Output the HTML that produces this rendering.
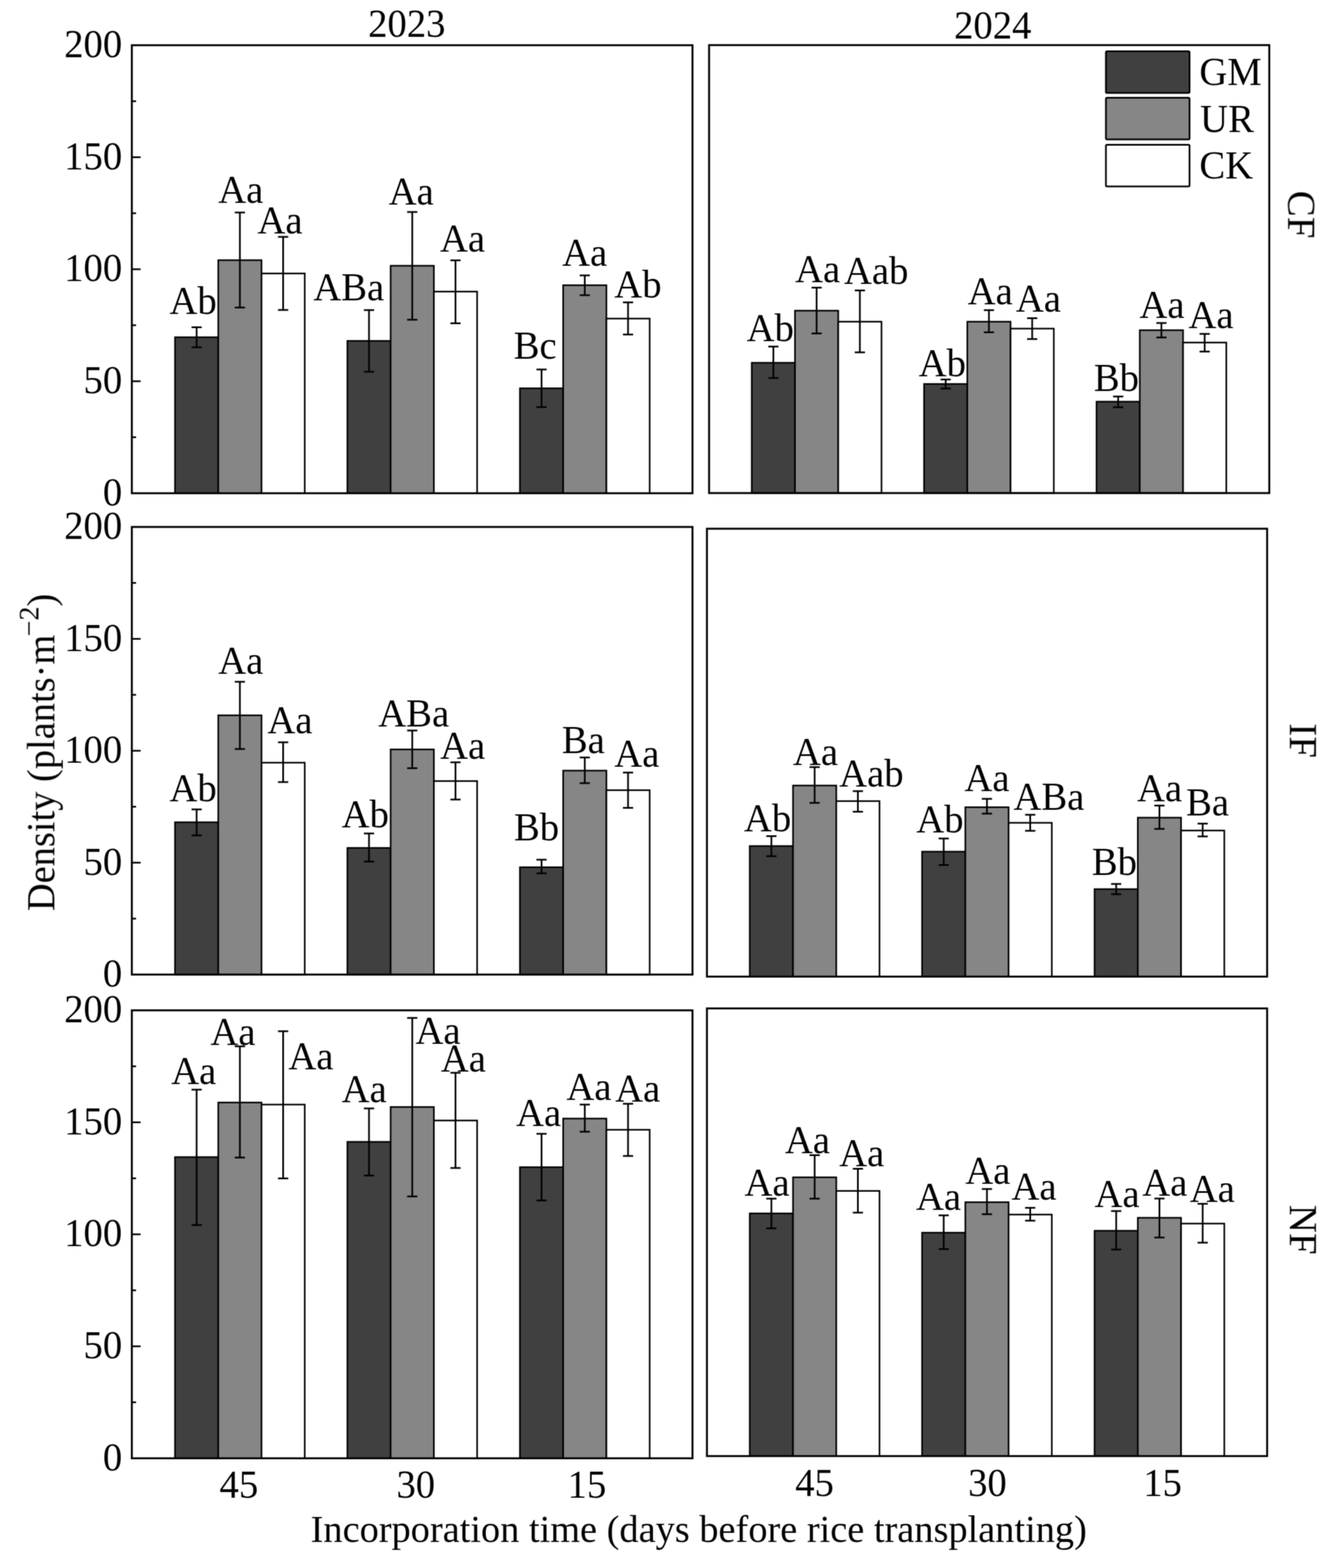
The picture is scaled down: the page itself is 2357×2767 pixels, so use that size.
<!DOCTYPE html>
<html lang="en"><head><meta charset="utf-8"><title>Density by incorporation time</title>
<style>
html,body{margin:0;padding:0;background:#fff;}
body{width:2357px;height:2767px;overflow:hidden;}
svg{display:block;}
text{font-family:"Liberation Serif",serif;font-size:69.3px;fill:#000;}
text.r{font-size:68.8px;}
text.xt{font-size:67.8px;}
.fr{fill:none;stroke:#000;stroke-width:3.4;}
.tk{stroke:#000;stroke-width:3;fill:none;}
.b{stroke:#000;stroke-width:2.8;}
.lg{stroke:#000;stroke-width:3;}
.e{stroke:#000;stroke-width:3;fill:none;}
.d{fill:#404040;}.m{fill:#868686;}.w{fill:#ffffff;}
</style></head><body>
<svg width="2357" height="2767" viewBox="0 0 2357 2767">
<rect x="0" y="0" width="2357" height="2767" fill="#fff"/>
<filter id="soft" filterUnits="userSpaceOnUse" x="0" y="0" width="2357" height="2767" color-interpolation-filters="sRGB"><feConvolveMatrix order="3" kernelMatrix="1 2 1 2 4 2 1 2 1" divisor="16" edgeMode="duplicate" preserveAlpha="false"/></filter>
<g filter="url(#soft)">
<g>
<rect class="b d" x="308.75" y="595.1" width="76.3" height="275.3"/>
<rect class="b m" x="385.05" y="459.1" width="76.3" height="411.3"/>
<rect class="b w" x="461.35" y="482.6" width="76.3" height="387.8"/>
<rect class="b d" x="612.85" y="601.6" width="76.3" height="268.8"/>
<rect class="b m" x="689.15" y="469" width="76.3" height="401.4"/>
<rect class="b w" x="765.45" y="514.6" width="76.3" height="355.8"/>
<rect class="b d" x="917.25" y="685.2" width="76.3" height="185.2"/>
<rect class="b m" x="993.55" y="503.3" width="76.3" height="367.1"/>
<rect class="b w" x="1069.85" y="562.2" width="76.3" height="308.2"/>
<line class="e" x1="346.9" y1="577.5" x2="346.9" y2="612.9"/><line class="e" x1="337.9" y1="577.5" x2="355.9" y2="577.5"/><line class="e" x1="337.9" y1="612.9" x2="355.9" y2="612.9"/>
<line class="e" x1="423.2" y1="375" x2="423.2" y2="542.7"/><line class="e" x1="414.2" y1="375" x2="432.2" y2="375"/><line class="e" x1="414.2" y1="542.7" x2="432.2" y2="542.7"/>
<line class="e" x1="499.5" y1="418" x2="499.5" y2="547"/><line class="e" x1="490.5" y1="418" x2="508.5" y2="418"/><line class="e" x1="490.5" y1="547" x2="508.5" y2="547"/>
<line class="e" x1="651" y1="547.2" x2="651" y2="656"/><line class="e" x1="642" y1="547.2" x2="660" y2="547.2"/><line class="e" x1="642" y1="656" x2="660" y2="656"/>
<line class="e" x1="727.3" y1="374.1" x2="727.3" y2="564.2"/><line class="e" x1="718.3" y1="374.1" x2="736.3" y2="374.1"/><line class="e" x1="718.3" y1="564.2" x2="736.3" y2="564.2"/>
<line class="e" x1="803.6" y1="459.4" x2="803.6" y2="570.5"/><line class="e" x1="794.6" y1="459.4" x2="812.6" y2="459.4"/><line class="e" x1="794.6" y1="570.5" x2="812.6" y2="570.5"/>
<line class="e" x1="955.4" y1="652" x2="955.4" y2="718.4"/><line class="e" x1="946.4" y1="652" x2="964.4" y2="652"/><line class="e" x1="946.4" y1="718.4" x2="964.4" y2="718.4"/>
<line class="e" x1="1031.7" y1="486" x2="1031.7" y2="520.9"/><line class="e" x1="1022.7" y1="486" x2="1040.7" y2="486"/><line class="e" x1="1022.7" y1="520.9" x2="1040.7" y2="520.9"/>
<line class="e" x1="1108" y1="533.6" x2="1108" y2="590.3"/><line class="e" x1="1099" y1="533.6" x2="1117" y2="533.6"/><line class="e" x1="1099" y1="590.3" x2="1117" y2="590.3"/>
<rect class="fr" x="232.6" y="79.8" width="989.1" height="790.6"/>
<line class="tk" x1="232.6" y1="771.57" x2="240.1" y2="771.57"/><line class="tk" x1="232.6" y1="672.75" x2="248.1" y2="672.75"/><line class="tk" x1="232.6" y1="573.92" x2="240.1" y2="573.92"/><line class="tk" x1="232.6" y1="475.1" x2="248.1" y2="475.1"/><line class="tk" x1="232.6" y1="376.27" x2="240.1" y2="376.27"/><line class="tk" x1="232.6" y1="277.45" x2="248.1" y2="277.45"/><line class="tk" x1="232.6" y1="178.62" x2="240.1" y2="178.62"/>
<text transform="translate(215.6 891.7) scale(0.9850 1)" text-anchor="end">0</text>
<text transform="translate(215.6 694.05) scale(0.9850 1)" text-anchor="end">50</text>
<text transform="translate(215.6 496.4) scale(0.9850 1)" text-anchor="end">100</text>
<text transform="translate(215.6 298.75) scale(0.9850 1)" text-anchor="end">150</text>
<text transform="translate(215.6 101.1) scale(0.9850 1)" text-anchor="end">200</text>
<text transform="translate(299.03 554.3) scale(0.9850 1)">Ab</text>
<text transform="translate(384.93 358) scale(0.9850 1)">Aa</text>
<text transform="translate(454.33 411.8) scale(0.9850 1)">Aa</text>
<text transform="translate(552.63 530.2) scale(0.9850 1)">ABa</text>
<text transform="translate(685.73 360.8) scale(0.9850 1)">Aa</text>
<text transform="translate(776.33 443.8) scale(0.9850 1)">Aa</text>
<text transform="translate(906.23 633.3) scale(0.9850 1)">Bc</text>
<text transform="translate(991.73 468.5) scale(0.9850 1)">Aa</text>
<text transform="translate(1083.73 525.1) scale(0.9850 1)">Ab</text>
</g>
<g>
<rect class="b d" x="1326.25" y="640.2" width="76.3" height="229.9"/>
<rect class="b m" x="1402.55" y="548.2" width="76.3" height="321.9"/>
<rect class="b w" x="1478.85" y="567.7" width="76.3" height="302.4"/>
<rect class="b d" x="1630.25" y="677.6" width="76.3" height="192.5"/>
<rect class="b m" x="1706.55" y="567.7" width="76.3" height="302.4"/>
<rect class="b w" x="1782.85" y="579.9" width="76.3" height="290.2"/>
<rect class="b d" x="1934.55" y="708.8" width="76.3" height="161.3"/>
<rect class="b m" x="2010.85" y="582.7" width="76.3" height="287.4"/>
<rect class="b w" x="2087.15" y="604.5" width="76.3" height="265.6"/>
<line class="e" x1="1364.4" y1="611.6" x2="1364.4" y2="667.1"/><line class="e" x1="1355.4" y1="611.6" x2="1373.4" y2="611.6"/><line class="e" x1="1355.4" y1="667.1" x2="1373.4" y2="667.1"/>
<line class="e" x1="1440.7" y1="507.6" x2="1440.7" y2="588.4"/><line class="e" x1="1431.7" y1="507.6" x2="1449.7" y2="507.6"/><line class="e" x1="1431.7" y1="588.4" x2="1449.7" y2="588.4"/>
<line class="e" x1="1517" y1="512.5" x2="1517" y2="621.8"/><line class="e" x1="1508" y1="512.5" x2="1526" y2="512.5"/><line class="e" x1="1508" y1="621.8" x2="1526" y2="621.8"/>
<line class="e" x1="1668.4" y1="669.7" x2="1668.4" y2="685.6"/><line class="e" x1="1659.4" y1="669.7" x2="1677.4" y2="669.7"/><line class="e" x1="1659.4" y1="685.6" x2="1677.4" y2="685.6"/>
<line class="e" x1="1744.7" y1="547.3" x2="1744.7" y2="586.4"/><line class="e" x1="1735.7" y1="547.3" x2="1753.7" y2="547.3"/><line class="e" x1="1735.7" y1="586.4" x2="1753.7" y2="586.4"/>
<line class="e" x1="1821" y1="561.5" x2="1821" y2="598.3"/><line class="e" x1="1812" y1="561.5" x2="1830" y2="561.5"/><line class="e" x1="1812" y1="598.3" x2="1830" y2="598.3"/>
<line class="e" x1="1972.7" y1="699.7" x2="1972.7" y2="718.7"/><line class="e" x1="1963.7" y1="699.7" x2="1981.7" y2="699.7"/><line class="e" x1="1963.7" y1="718.7" x2="1981.7" y2="718.7"/>
<line class="e" x1="2049" y1="570" x2="2049" y2="595.5"/><line class="e" x1="2040" y1="570" x2="2058" y2="570"/><line class="e" x1="2040" y1="595.5" x2="2058" y2="595.5"/>
<line class="e" x1="2125.3" y1="589.2" x2="2125.3" y2="620.4"/><line class="e" x1="2116.3" y1="589.2" x2="2134.3" y2="589.2"/><line class="e" x1="2116.3" y1="620.4" x2="2134.3" y2="620.4"/>
<rect class="fr" x="1251" y="79.6" width="988.3" height="790.5"/>
<text transform="translate(1317.13 601.7) scale(0.9850 1)">Ab</text>
<text transform="translate(1402.63 497.7) scale(0.9850 1)">Aa</text>
<text transform="translate(1489.03 501.4) scale(0.9850 1)">Aab</text>
<text transform="translate(1620.73 664.3) scale(0.9850 1)">Ab</text>
<text transform="translate(1707.13 537.4) scale(0.9850 1)">Aa</text>
<text transform="translate(1792.13 550.1) scale(0.9850 1)">Aa</text>
<text transform="translate(1929.63 690.4) scale(0.9850 1)">Bb</text>
<text transform="translate(2010.33 560.9) scale(0.9850 1)">Aa</text>
<text transform="translate(2096.73 578.5) scale(0.9850 1)">Aa</text>
</g>
<g>
<rect class="b d" x="308.75" y="1451" width="76.3" height="268.8"/>
<rect class="b m" x="385.05" y="1262.3" width="76.3" height="457.5"/>
<rect class="b w" x="461.35" y="1345.9" width="76.3" height="373.9"/>
<rect class="b d" x="612.85" y="1496.3" width="76.3" height="223.5"/>
<rect class="b m" x="689.15" y="1322.5" width="76.3" height="397.3"/>
<rect class="b w" x="765.45" y="1378.3" width="76.3" height="341.5"/>
<rect class="b d" x="917.25" y="1530.4" width="76.3" height="189.4"/>
<rect class="b m" x="993.55" y="1359.9" width="76.3" height="359.9"/>
<rect class="b w" x="1069.85" y="1394.4" width="76.3" height="325.4"/>
<line class="e" x1="346.9" y1="1428.3" x2="346.9" y2="1474.2"/><line class="e" x1="337.9" y1="1428.3" x2="355.9" y2="1428.3"/><line class="e" x1="337.9" y1="1474.2" x2="355.9" y2="1474.2"/>
<line class="e" x1="423.2" y1="1203.1" x2="423.2" y2="1321.8"/><line class="e" x1="414.2" y1="1203.1" x2="432.2" y2="1203.1"/><line class="e" x1="414.2" y1="1321.8" x2="432.2" y2="1321.8"/>
<line class="e" x1="499.5" y1="1309.9" x2="499.5" y2="1380.1"/><line class="e" x1="490.5" y1="1309.9" x2="508.5" y2="1309.9"/><line class="e" x1="490.5" y1="1380.1" x2="508.5" y2="1380.1"/>
<line class="e" x1="651" y1="1470.8" x2="651" y2="1520.4"/><line class="e" x1="642" y1="1470.8" x2="660" y2="1470.8"/><line class="e" x1="642" y1="1520.4" x2="660" y2="1520.4"/>
<line class="e" x1="727.3" y1="1289.1" x2="727.3" y2="1355.6"/><line class="e" x1="718.3" y1="1289.1" x2="736.3" y2="1289.1"/><line class="e" x1="718.3" y1="1355.6" x2="736.3" y2="1355.6"/>
<line class="e" x1="803.6" y1="1345.2" x2="803.6" y2="1410.9"/><line class="e" x1="794.6" y1="1345.2" x2="812.6" y2="1345.2"/><line class="e" x1="794.6" y1="1410.9" x2="812.6" y2="1410.9"/>
<line class="e" x1="955.4" y1="1517.1" x2="955.4" y2="1541.2"/><line class="e" x1="946.4" y1="1517.1" x2="964.4" y2="1517.1"/><line class="e" x1="946.4" y1="1541.2" x2="964.4" y2="1541.2"/>
<line class="e" x1="1031.7" y1="1336.7" x2="1031.7" y2="1382"/><line class="e" x1="1022.7" y1="1336.7" x2="1040.7" y2="1336.7"/><line class="e" x1="1022.7" y1="1382" x2="1040.7" y2="1382"/>
<line class="e" x1="1108" y1="1363.3" x2="1108" y2="1425.6"/><line class="e" x1="1099" y1="1363.3" x2="1117" y2="1363.3"/><line class="e" x1="1099" y1="1425.6" x2="1117" y2="1425.6"/>
<rect class="fr" x="232.6" y="929.9" width="989.1" height="789.9"/>
<line class="tk" x1="232.6" y1="1621.06" x2="240.1" y2="1621.06"/><line class="tk" x1="232.6" y1="1522.33" x2="248.1" y2="1522.33"/><line class="tk" x1="232.6" y1="1423.59" x2="240.1" y2="1423.59"/><line class="tk" x1="232.6" y1="1324.85" x2="248.1" y2="1324.85"/><line class="tk" x1="232.6" y1="1226.11" x2="240.1" y2="1226.11"/><line class="tk" x1="232.6" y1="1127.38" x2="248.1" y2="1127.38"/><line class="tk" x1="232.6" y1="1028.64" x2="240.1" y2="1028.64"/>
<text transform="translate(215.6 1741.1) scale(0.9850 1)" text-anchor="end">0</text>
<text transform="translate(215.6 1543.62) scale(0.9850 1)" text-anchor="end">50</text>
<text transform="translate(215.6 1346.15) scale(0.9850 1)" text-anchor="end">100</text>
<text transform="translate(215.6 1148.67) scale(0.9850 1)" text-anchor="end">150</text>
<text transform="translate(215.6 951.2) scale(0.9850 1)" text-anchor="end">200</text>
<text transform="translate(299.03 1413.9) scale(0.9850 1)">Ab</text>
<text transform="translate(384.93 1188.9) scale(0.9850 1)">Aa</text>
<text transform="translate(471.83 1294.3) scale(0.9850 1)">Aa</text>
<text transform="translate(602.73 1460) scale(0.9850 1)">Ab</text>
<text transform="translate(667.33 1282) scale(0.9850 1)">ABa</text>
<text transform="translate(776.43 1338.6) scale(0.9850 1)">Aa</text>
<text transform="translate(906.83 1482.5) scale(0.9850 1)">Bb</text>
<text transform="translate(991.23 1328.7) scale(0.9850 1)">Ba</text>
<text transform="translate(1083.73 1352.8) scale(0.9850 1)">Aa</text>
</g>
<g>
<rect class="b d" x="1322.75" y="1493" width="76.3" height="230.4"/>
<rect class="b m" x="1399.05" y="1386.2" width="76.3" height="337.2"/>
<rect class="b w" x="1475.35" y="1413.7" width="76.3" height="309.7"/>
<rect class="b d" x="1626.75" y="1502.9" width="76.3" height="220.5"/>
<rect class="b m" x="1703.05" y="1424.5" width="76.3" height="298.9"/>
<rect class="b w" x="1779.35" y="1452" width="76.3" height="271.4"/>
<rect class="b d" x="1931.05" y="1569" width="76.3" height="154.4"/>
<rect class="b m" x="2007.35" y="1442.9" width="76.3" height="280.5"/>
<rect class="b w" x="2083.65" y="1465.6" width="76.3" height="257.8"/>
<line class="e" x1="1360.9" y1="1475.5" x2="1360.9" y2="1510.9"/><line class="e" x1="1351.9" y1="1475.5" x2="1369.9" y2="1475.5"/><line class="e" x1="1351.9" y1="1510.9" x2="1369.9" y2="1510.9"/>
<line class="e" x1="1437.2" y1="1353.7" x2="1437.2" y2="1416.8"/><line class="e" x1="1428.2" y1="1353.7" x2="1446.2" y2="1353.7"/><line class="e" x1="1428.2" y1="1416.8" x2="1446.2" y2="1416.8"/>
<line class="e" x1="1513.5" y1="1396.1" x2="1513.5" y2="1432.4"/><line class="e" x1="1504.5" y1="1396.1" x2="1522.5" y2="1396.1"/><line class="e" x1="1504.5" y1="1432.4" x2="1522.5" y2="1432.4"/>
<line class="e" x1="1664.9" y1="1479.7" x2="1664.9" y2="1526.5"/><line class="e" x1="1655.9" y1="1479.7" x2="1673.9" y2="1479.7"/><line class="e" x1="1655.9" y1="1526.5" x2="1673.9" y2="1526.5"/>
<line class="e" x1="1741.2" y1="1409.7" x2="1741.2" y2="1435.8"/><line class="e" x1="1732.2" y1="1409.7" x2="1750.2" y2="1409.7"/><line class="e" x1="1732.2" y1="1435.8" x2="1750.2" y2="1435.8"/>
<line class="e" x1="1817.5" y1="1437.8" x2="1817.5" y2="1466.1"/><line class="e" x1="1808.5" y1="1437.8" x2="1826.5" y2="1437.8"/><line class="e" x1="1808.5" y1="1466.1" x2="1826.5" y2="1466.1"/>
<line class="e" x1="1969.2" y1="1559.9" x2="1969.2" y2="1578"/><line class="e" x1="1960.2" y1="1559.9" x2="1978.2" y2="1559.9"/><line class="e" x1="1960.2" y1="1578" x2="1978.2" y2="1578"/>
<line class="e" x1="2045.5" y1="1421.6" x2="2045.5" y2="1462.7"/><line class="e" x1="2036.5" y1="1421.6" x2="2054.5" y2="1421.6"/><line class="e" x1="2036.5" y1="1462.7" x2="2054.5" y2="1462.7"/>
<line class="e" x1="2121.8" y1="1453.4" x2="2121.8" y2="1476"/><line class="e" x1="2112.8" y1="1453.4" x2="2130.8" y2="1453.4"/><line class="e" x1="2112.8" y1="1476" x2="2130.8" y2="1476"/>
<rect class="fr" x="1247.2" y="933" width="988.3" height="790.4"/>
<text transform="translate(1312.53 1467) scale(0.9850 1)">Ab</text>
<text transform="translate(1398.93 1350.3) scale(0.9850 1)">Aa</text>
<text transform="translate(1480.53 1388.2) scale(0.9850 1)">Aab</text>
<text transform="translate(1616.53 1469.2) scale(0.9850 1)">Ab</text>
<text transform="translate(1701.53 1395.6) scale(0.9850 1)">Aa</text>
<text transform="translate(1787.93 1428.7) scale(0.9850 1)">ABa</text>
<text transform="translate(1926.23 1544.3) scale(0.9850 1)">Bb</text>
<text transform="translate(2006.03 1413.7) scale(0.9850 1)">Aa</text>
<text transform="translate(2092.53 1438.6) scale(0.9850 1)">Ba</text>
</g>
<g>
<rect class="b d" x="308.75" y="2041.9" width="76.3" height="531.5"/>
<rect class="b m" x="385.05" y="1945.6" width="76.3" height="627.8"/>
<rect class="b w" x="461.35" y="1949.2" width="76.3" height="624.2"/>
<rect class="b d" x="612.85" y="2015" width="76.3" height="558.4"/>
<rect class="b m" x="689.15" y="1953.5" width="76.3" height="619.9"/>
<rect class="b w" x="765.45" y="1977.3" width="76.3" height="596.1"/>
<rect class="b d" x="917.25" y="2059.7" width="76.3" height="513.7"/>
<rect class="b m" x="993.55" y="1973.9" width="76.3" height="599.5"/>
<rect class="b w" x="1069.85" y="1993.7" width="76.3" height="579.7"/>
<line class="e" x1="346.9" y1="1922.9" x2="346.9" y2="2161.8"/><line class="e" x1="337.9" y1="1922.9" x2="355.9" y2="1922.9"/><line class="e" x1="337.9" y1="2161.8" x2="355.9" y2="2161.8"/>
<line class="e" x1="423.2" y1="1846.4" x2="423.2" y2="2042.7"/><line class="e" x1="414.2" y1="1846.4" x2="432.2" y2="1846.4"/><line class="e" x1="414.2" y1="2042.7" x2="432.2" y2="2042.7"/>
<line class="e" x1="499.5" y1="1819.8" x2="499.5" y2="2079.5"/><line class="e" x1="490.5" y1="1819.8" x2="508.5" y2="1819.8"/><line class="e" x1="490.5" y1="2079.5" x2="508.5" y2="2079.5"/>
<line class="e" x1="651" y1="1956" x2="651" y2="2074.4"/><line class="e" x1="642" y1="1956" x2="660" y2="1956"/><line class="e" x1="642" y1="2074.4" x2="660" y2="2074.4"/>
<line class="e" x1="727.3" y1="1796.3" x2="727.3" y2="2111.3"/><line class="e" x1="718.3" y1="1796.3" x2="736.3" y2="1796.3"/><line class="e" x1="718.3" y1="2111.3" x2="736.3" y2="2111.3"/>
<line class="e" x1="803.6" y1="1893.1" x2="803.6" y2="2061.1"/><line class="e" x1="794.6" y1="1893.1" x2="812.6" y2="1893.1"/><line class="e" x1="794.6" y1="2061.1" x2="812.6" y2="2061.1"/>
<line class="e" x1="955.4" y1="2000.8" x2="955.4" y2="2118.4"/><line class="e" x1="946.4" y1="2000.8" x2="964.4" y2="2000.8"/><line class="e" x1="946.4" y1="2118.4" x2="964.4" y2="2118.4"/>
<line class="e" x1="1031.7" y1="1949.2" x2="1031.7" y2="1997.1"/><line class="e" x1="1022.7" y1="1949.2" x2="1040.7" y2="1949.2"/><line class="e" x1="1022.7" y1="1997.1" x2="1040.7" y2="1997.1"/>
<line class="e" x1="1108" y1="1947.8" x2="1108" y2="2039.9"/><line class="e" x1="1099" y1="1947.8" x2="1117" y2="1947.8"/><line class="e" x1="1099" y1="2039.9" x2="1117" y2="2039.9"/>
<rect class="fr" x="232.6" y="1782.9" width="989.1" height="790.5"/>
<line class="tk" x1="232.6" y1="2474.59" x2="240.1" y2="2474.59"/><line class="tk" x1="232.6" y1="2375.78" x2="248.1" y2="2375.78"/><line class="tk" x1="232.6" y1="2276.96" x2="240.1" y2="2276.96"/><line class="tk" x1="232.6" y1="2178.15" x2="248.1" y2="2178.15"/><line class="tk" x1="232.6" y1="2079.34" x2="240.1" y2="2079.34"/><line class="tk" x1="232.6" y1="1980.53" x2="248.1" y2="1980.53"/><line class="tk" x1="232.6" y1="1881.71" x2="240.1" y2="1881.71"/>
<text transform="translate(215.6 2594.7) scale(0.9850 1)" text-anchor="end">0</text>
<text transform="translate(215.6 2397.08) scale(0.9850 1)" text-anchor="end">50</text>
<text transform="translate(215.6 2199.45) scale(0.9850 1)" text-anchor="end">100</text>
<text transform="translate(215.6 2001.83) scale(0.9850 1)" text-anchor="end">150</text>
<text transform="translate(215.6 1804.2) scale(0.9850 1)" text-anchor="end">200</text>
<text transform="translate(301.93 1913) scale(0.9850 1)">Aa</text>
<text transform="translate(371.33 1844.1) scale(0.9850 1)">Aa</text>
<text transform="translate(508.73 1886.9) scale(0.9850 1)">Aa</text>
<text transform="translate(602.73 1945) scale(0.9850 1)">Aa</text>
<text transform="translate(733.03 1841.6) scale(0.9850 1)">Aa</text>
<text transform="translate(777.83 1891.2) scale(0.9850 1)">Aa</text>
<text transform="translate(910.43 1986.6) scale(0.9850 1)">Aa</text>
<text transform="translate(999.33 1941.3) scale(0.9850 1)">Aa</text>
<text transform="translate(1085.23 1944.1) scale(0.9850 1)">Aa</text>
</g>
<g>
<rect class="b d" x="1322.75" y="2141.3" width="76.3" height="428.2"/>
<rect class="b m" x="1399.05" y="2077.6" width="76.3" height="491.9"/>
<rect class="b w" x="1475.35" y="2101.6" width="76.3" height="467.9"/>
<rect class="b d" x="1626.75" y="2175.3" width="76.3" height="394.2"/>
<rect class="b m" x="1703.05" y="2121.5" width="76.3" height="448"/>
<rect class="b w" x="1779.35" y="2143.3" width="76.3" height="426.2"/>
<rect class="b d" x="1931.05" y="2171.9" width="76.3" height="397.6"/>
<rect class="b m" x="2007.35" y="2149" width="76.3" height="420.5"/>
<rect class="b w" x="2083.65" y="2159.2" width="76.3" height="410.3"/>
<line class="e" x1="1360.9" y1="2115.2" x2="1360.9" y2="2167.6"/><line class="e" x1="1351.9" y1="2115.2" x2="1369.9" y2="2115.2"/><line class="e" x1="1351.9" y1="2167.6" x2="1369.9" y2="2167.6"/>
<line class="e" x1="1437.2" y1="2038.5" x2="1437.2" y2="2115.2"/><line class="e" x1="1428.2" y1="2038.5" x2="1446.2" y2="2038.5"/><line class="e" x1="1428.2" y1="2115.2" x2="1446.2" y2="2115.2"/>
<line class="e" x1="1513.5" y1="2062.5" x2="1513.5" y2="2139.9"/><line class="e" x1="1504.5" y1="2062.5" x2="1522.5" y2="2062.5"/><line class="e" x1="1504.5" y1="2139.9" x2="1522.5" y2="2139.9"/>
<line class="e" x1="1664.9" y1="2144.7" x2="1664.9" y2="2204.2"/><line class="e" x1="1655.9" y1="2144.7" x2="1673.9" y2="2144.7"/><line class="e" x1="1655.9" y1="2204.2" x2="1673.9" y2="2204.2"/>
<line class="e" x1="1741.2" y1="2098.2" x2="1741.2" y2="2142.7"/><line class="e" x1="1732.2" y1="2098.2" x2="1750.2" y2="2098.2"/><line class="e" x1="1732.2" y1="2142.7" x2="1750.2" y2="2142.7"/>
<line class="e" x1="1817.5" y1="2131.4" x2="1817.5" y2="2154.1"/><line class="e" x1="1808.5" y1="2131.4" x2="1826.5" y2="2131.4"/><line class="e" x1="1808.5" y1="2154.1" x2="1826.5" y2="2154.1"/>
<line class="e" x1="1969.2" y1="2137.1" x2="1969.2" y2="2205"/><line class="e" x1="1960.2" y1="2137.1" x2="1978.2" y2="2137.1"/><line class="e" x1="1960.2" y1="2205" x2="1978.2" y2="2205"/>
<line class="e" x1="2045.5" y1="2115" x2="2045.5" y2="2183.8"/><line class="e" x1="2036.5" y1="2115" x2="2054.5" y2="2115"/><line class="e" x1="2036.5" y1="2183.8" x2="2054.5" y2="2183.8"/>
<line class="e" x1="2121.8" y1="2124.3" x2="2121.8" y2="2192.9"/><line class="e" x1="2112.8" y1="2124.3" x2="2130.8" y2="2124.3"/><line class="e" x1="2112.8" y1="2192.9" x2="2130.8" y2="2192.9"/>
<rect class="fr" x="1247.2" y="1779.5" width="988.3" height="790"/>
<text transform="translate(1313.43 2110.1) scale(0.9850 1)">Aa</text>
<text transform="translate(1384.83 2035.1) scale(0.9850 1)">Aa</text>
<text transform="translate(1480.53 2057.7) scale(0.9850 1)">Aa</text>
<text transform="translate(1615.93 2135.1) scale(0.9850 1)">Aa</text>
<text transform="translate(1702.93 2088.9) scale(0.9850 1)">Aa</text>
<text transform="translate(1784.53 2117.2) scale(0.9850 1)">Aa</text>
<text transform="translate(1930.93 2130) scale(0.9850 1)">Aa</text>
<text transform="translate(2015.13 2109.6) scale(0.9850 1)">Aa</text>
<text transform="translate(2098.93 2120.6) scale(0.9850 1)">Aa</text>
</g>
<text transform="translate(649.4 64.5) scale(0.9850 1)">2023</text>
<text transform="translate(1683.2 68.1) scale(0.9850 1)">2024</text>
<rect class="lg d" x="1951.1" y="90.5" width="147.5" height="73.6" rx="2" ry="2"/>
<text transform="translate(2116 150.4) scale(0.9850 1)">GM</text>
<rect class="lg m" x="1951.1" y="172.5" width="147.5" height="73.6" rx="2" ry="2"/>
<text transform="translate(2117.37 232.7) scale(0.9850 1)">UR</text>
<rect class="lg w" x="1951.1" y="255.4" width="147.5" height="73.6" rx="2" ry="2"/>
<text transform="translate(2116 315.3) scale(0.9850 1)">CK</text>
<text class="r" transform="translate(2272.5 336.58) rotate(90) scale(1.0000 1)">CF</text>
<text class="r" transform="translate(2275.6 1276.32) rotate(90) scale(1.0000 1)">IF</text>
<text class="r" transform="translate(2275.6 2126.02) rotate(90) scale(1.0000 1)">NF</text>
<text transform="translate(421.4 2643.2) scale(0.9850 1)" text-anchor="middle">45</text>
<text transform="translate(733.6 2643.2) scale(0.9850 1)" text-anchor="middle">30</text>
<text transform="translate(1035.4 2643.2) scale(0.9850 1)" text-anchor="middle">15</text>
<text transform="translate(1437 2640.3) scale(0.9850 1)" text-anchor="middle">45</text>
<text transform="translate(1742 2640.3) scale(0.9850 1)" text-anchor="middle">30</text>
<text transform="translate(2051 2640.3) scale(0.9850 1)" text-anchor="middle">15</text>
<text class="xt" transform="translate(548.06 2721) scale(0.9980 1)">Incorporation time (days before rice transplanting)</text>
<text class="r" transform="translate(95.8 1607.78) rotate(-90) scale(0.9855 1)">Density (plants·m<tspan font-size="50.3px" dx="-3" dy="-28.3">−2</tspan><tspan dy="28.3">)</tspan></text>
</g>
</svg>
</body></html>
